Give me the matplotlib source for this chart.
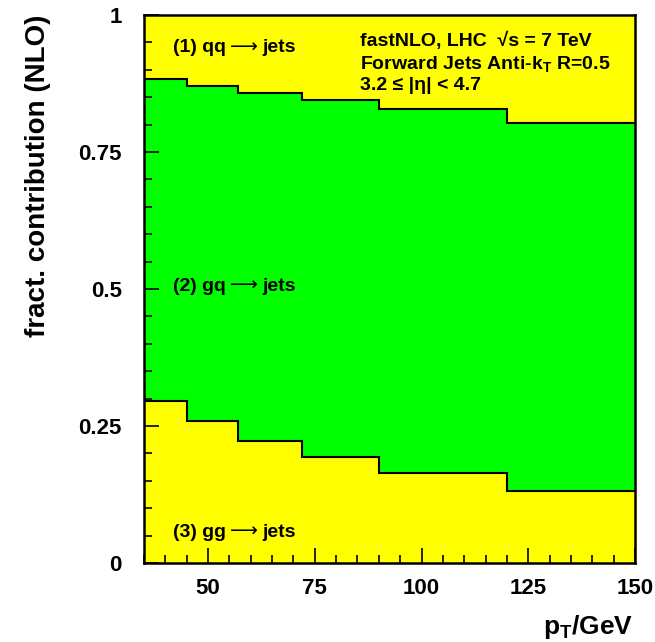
import matplotlib
matplotlib.use("Agg")
import matplotlib.pyplot as plt
import numpy as np
from matplotlib.ticker import MultipleLocator
from matplotlib.offsetbox import TextArea, HPacker, AnnotationBbox

plt.rcParams['font.family'] = ['Liberation Sans', 'DejaVu Sans']
plt.rcParams['font.weight'] = 'bold'
plt.rcParams['mathtext.fontset'] = 'custom'
plt.rcParams['mathtext.rm'] = 'Liberation Sans:bold'
plt.rcParams['mathtext.it'] = 'Liberation Sans:bold'
plt.rcParams['mathtext.bf'] = 'Liberation Sans:bold'

# pT bin edges (GeV) and fractional NLO contributions per subprocess
pt_edges = [35, 45, 57, 72, 90, 120, 150]
gg_frac = [0.296, 0.259, 0.223, 0.193, 0.165, 0.131]
gq_frac = [0.587, 0.612, 0.634, 0.652, 0.664, 0.672]

yellow = '#ffff00'
green = '#00ff00'

edges = np.array(pt_edges)
lower = np.array(gg_frac)
upper = lower + np.array(gq_frac)

fig = plt.figure(figsize=(6.55, 6.42), dpi=100)
ax = fig.add_axes([144/655, 1 - 563/642, (635-144)/655, (563-15)/642])
ax.set_facecolor(yellow)

ax.stairs(upper, edges, baseline=lower, fill=True, color=green, zorder=1)
ax.stairs(lower, edges, baseline=None, color='black', lw=1.5, zorder=2)
ax.stairs(upper, edges, baseline=None, color='black', lw=1.5, zorder=2)

ax.set_xlim(35, 150)
ax.set_ylim(0, 1)
ax.xaxis.set_major_locator(MultipleLocator(25))
ax.xaxis.set_minor_locator(MultipleLocator(5))
ax.yaxis.set_major_locator(MultipleLocator(0.25))
ax.yaxis.set_minor_locator(MultipleLocator(0.05))
ax.set_yticks([0, 0.25, 0.5, 0.75, 1])
ax.set_yticklabels(['0', '0.25', '0.5', '0.75', '1'])
ax.tick_params(which='both', direction='in', top=False, right=False,
               labelsize=16, width=1.2)
ax.tick_params(which='major', length=11)
ax.tick_params(which='minor', length=5.5)
ax.tick_params(axis='y', which='major', pad=16)
ax.tick_params(axis='x', which='major', pad=10.5)
for lab in ax.get_xticklabels() + ax.get_yticklabels():
    lab.set_fontweight('bold')
for sp in ax.spines.values():
    sp.set_linewidth(1.8)
    sp.set_zorder(5)


def channel_label(x, y, left, right):
    # long thin arrow like the ROOT one, the rest in bold
    bold = dict(fontsize=14, fontweight='bold', family='Liberation Sans')
    arrow = dict(fontsize=14, fontweight='normal', family='DejaVu Sans')
    box = HPacker(children=[TextArea(left, textprops=bold),
                            TextArea('\u27f6', textprops=arrow),
                            TextArea(right, textprops=bold)],
                  align='baseline', pad=0, sep=3)
    ab = AnnotationBbox(box, (x, y), xycoords='data', box_alignment=(0, 0.5),
                        frameon=False, pad=0, zorder=6)
    ax.add_artist(ab)


channel_label(41.8, 0.942, '(1) qq', 'jets')
channel_label(41.8, 0.507, '(2) gq', 'jets')
channel_label(41.8, 0.058, '(3) gg', 'jets')

ax.text(85.6, 0.953, 'fastNLO, LHC  \u221as = 7 TeV', fontsize=14, va='center')
ax.text(85.6, 0.911, r'Forward Jets Anti-k$_\mathrm{T}$ R=0.5', fontsize=14, va='center')
ax.text(85.6, 0.872, '3.2 \u2264 |\u03b7| < 4.7', fontsize=14, va='center')

fig.text(38/655, 1 - 15/642, 'fract. contribution (NLO)', rotation=90,
         ha='center', va='top', fontsize=20, fontweight='bold')
fig.text(633/655, 1 - 627/642, r'p$_\mathrm{T}$/GeV', ha='right', va='center',
         fontsize=19, fontweight='bold')

fig.savefig('out.png', dpi=100)
